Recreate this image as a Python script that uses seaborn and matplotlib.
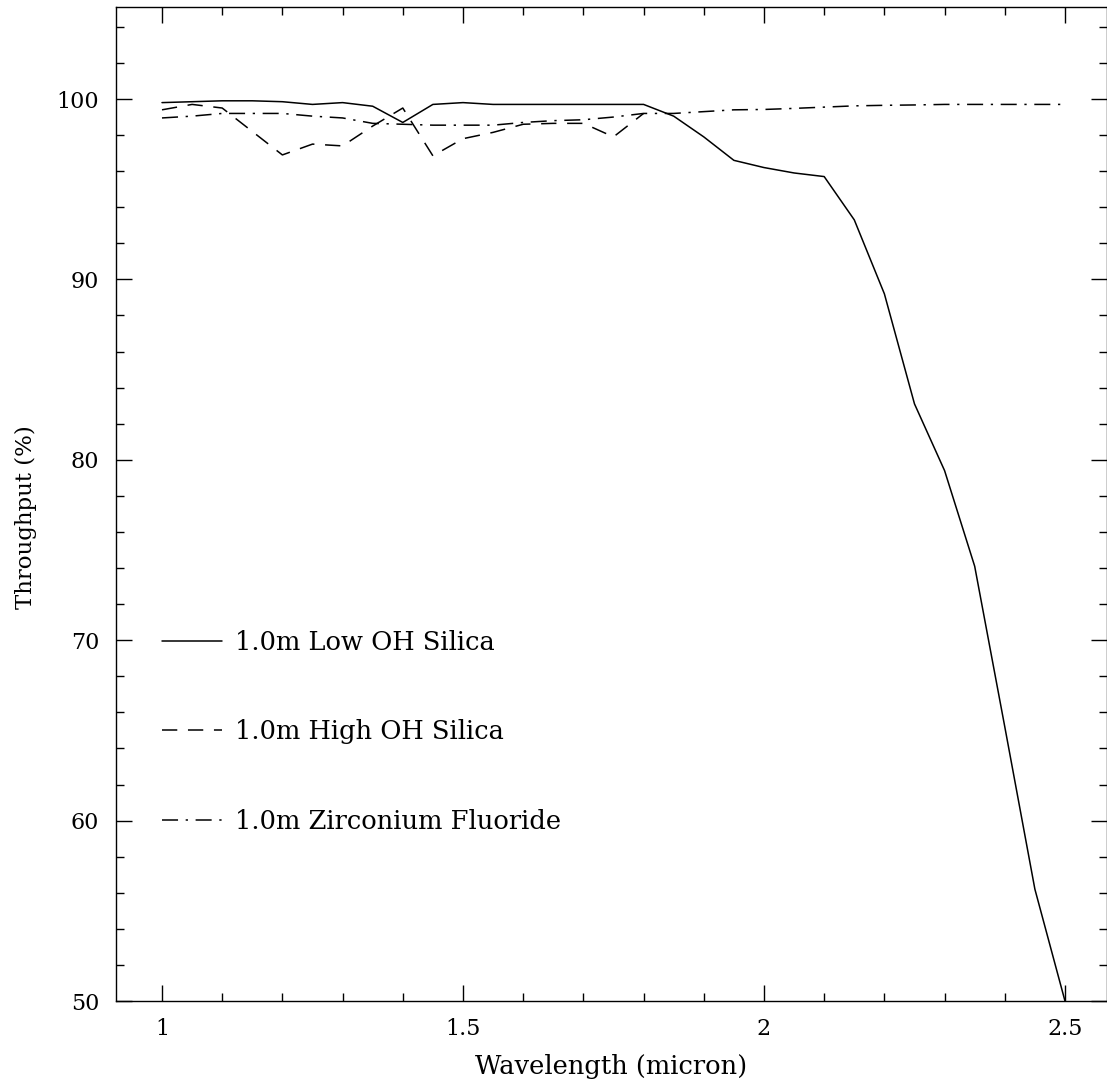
import matplotlib
matplotlib.use("Agg")
import matplotlib.pyplot as plt
import seaborn as sns
import pandas as pd
from matplotlib.ticker import MultipleLocator, FormatStrFormatter

# fibre throughput per 1 m
wavelength = [1.0, 1.05, 1.1, 1.15, 1.2, 1.25, 1.3, 1.35, 1.4, 1.45, 1.5,
              1.55, 1.6, 1.65, 1.7, 1.75, 1.8, 1.85, 1.9, 1.95, 2.0,
              2.05, 2.1, 2.15, 2.2, 2.25, 2.3, 2.35, 2.4, 2.45, 2.5]
low_oh = [99.8, 99.85, 99.9, 99.9, 99.85, 99.7, 99.8, 99.6, 98.7, 99.7, 99.8,
          99.7, 99.7, 99.7, 99.7, 99.7, 99.7, 99.05, 97.9, 96.6, 96.2,
          95.9, 95.7, 93.3, 89.2, 83.1, 79.4, 74.1, 65.2, 56.2, 50.0]
high_oh = [99.4, 99.7, 99.5, 98.2, 96.9, 97.5, 97.4, 98.5, 99.5, 96.85, 97.8,
           98.15, 98.6, 98.65, 98.65, 97.9, 99.2]
zrf = [98.95, 99.05, 99.2, 99.2, 99.2, 99.05, 98.95, 98.65, 98.6, 98.55, 98.55,
       98.55, 98.7, 98.8, 98.85, 99.0, 99.2, 99.2, 99.3, 99.4, 99.42,
       99.48, 99.55, 99.62, 99.65, 99.67, 99.7, 99.7, 99.7, 99.7, 99.7]
labels = ["1.0m Low OH Silica", "1.0m High OH Silica", "1.0m Zirconium Fluoride"]

df = pd.concat([
    pd.DataFrame({"wl": wavelength, "tp": low_oh, "fibre": labels[0]}),
    pd.DataFrame({"wl": wavelength[:len(high_oh)], "tp": high_oh, "fibre": labels[1]}),
    pd.DataFrame({"wl": wavelength, "tp": zrf, "fibre": labels[2]}),
])

sns.set_style("ticks")
plt.rcParams["font.family"] = ["DejaVu Serif"]
plt.rcParams["font.size"] = 16
for k in ["text.color", "axes.labelcolor", "xtick.color", "ytick.color", "axes.edgecolor"]:
    plt.rcParams[k] = "black"

fig = plt.figure(figsize=(11.07, 10.83), dpi=100)
ax = fig.add_axes([116 / 1107, 82 / 1083, 991 / 1107, 994 / 1083])

sns.lineplot(data=df, x="wl", y="tp", style="fibre", style_order=labels,
             dashes={labels[0]: "", labels[1]: (10, 7), labels[2]: (10.5, 5, 1.5, 5)},
             color="black", linewidth=1.1, sort=False, estimator=None, ax=ax)

ax.set_xlim(0.9236, 2.5698)
ax.set_ylim(50, 105.1)
ax.xaxis.set_major_locator(MultipleLocator(0.5))
ax.xaxis.set_minor_locator(MultipleLocator(0.1))
ax.yaxis.set_major_locator(MultipleLocator(10))
ax.yaxis.set_minor_locator(MultipleLocator(2))
ax.xaxis.set_major_formatter(FormatStrFormatter("%g"))
ax.tick_params(which="both", direction="in", top=True, right=True,
               color="black", width=1.0)
ax.tick_params(which="major", length=11.5)
ax.tick_params(which="minor", length=5.8)
ax.tick_params(axis="x", pad=12, labelsize=16)
ax.tick_params(axis="y", pad=12, labelsize=16)
for s in ax.spines.values():
    s.set_color("black")
    s.set_linewidth(1.0)

ax.set_xlabel("Wavelength (micron)", fontsize=18.5, labelpad=10)
ax.set_ylabel("Throughput (%)", fontsize=16.5, labelpad=14)
ax.yaxis.set_label_coords(-0.080, 0.487)

handles, labs = ax.get_legend_handles_labels()
ax.legend(handles, labs, loc="upper left", bbox_to_anchor=(46 / 991, 0.373),
          frameon=False, borderpad=0, borderaxespad=0, handlelength=2.35,
          handletextpad=0.5, labelspacing=2.5, fontsize=18.5)

plt.savefig("out.png", dpi=100)
